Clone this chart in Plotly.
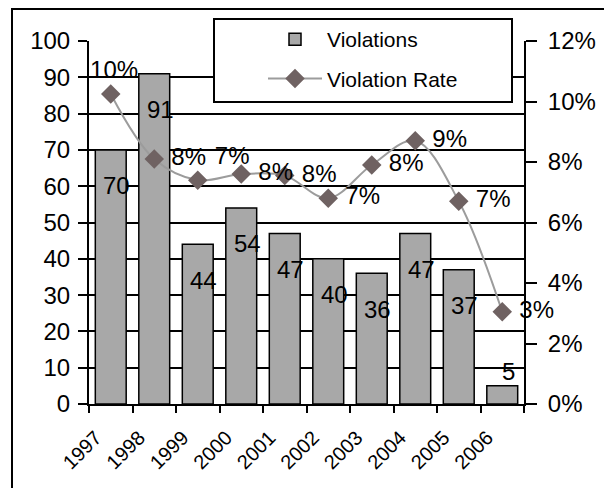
import plotly.graph_objects as go

years = ["1997", "1998", "1999", "2000", "2001", "2002", "2003", "2004", "2005", "2006"]
violations = [70, 91, 44, 54, 47, 40, 36, 47, 37, 5]
violation_rate = [10.25, 8.1, 7.4, 7.6, 7.55, 6.8, 7.9, 8.7, 6.7, 3.05]

FONT = "Liberation Sans"

# page body has an 8px margin: figure is 604x480 starting at (8, 8)
W, H, OFF = 604, 480, 8

rate_text = [f" {round(v)}%" for v in violation_rate]
rate_pos = ["top center", "middle right", "top right"] + ["middle right"] * (len(years) - 3)

fig = go.Figure()
fig.add_trace(go.Bar(
    x=years, y=violations, name="Violations", legendgroup="g1",
    marker=dict(color="#a8a8a8", line=dict(color="black", width=1.5)),
))
fig.add_trace(go.Scatter(
    x=years, y=violation_rate, name="Violation Rate", yaxis="y2", legendgroup="g2",
    mode="lines+markers+text", cliponaxis=False,
    line=dict(color="#9c9c9c", width=2, shape="spline"),
    marker=dict(symbol="diamond", size=15, color="#6f6262"),
    text=rate_text, textposition=rate_pos,
    textfont=dict(size=24, color="black"),
))

# bar value labels (x as category index)
for i, v in enumerate(violations):
    fig.add_annotation(
        x=i, y=v, xref="x", yref="y", text=str(v), showarrow=False,
        font=dict(size=24, color="black"),
        xshift=6, yshift=(-36 if v >= 10 else 14),
    )

fig.update_layout(
    width=W, height=H,
    margin=dict(l=89 - OFF, r=W - (524 - OFF), t=41 - OFF, b=H - (404 - OFF), autoexpand=False),
    paper_bgcolor="white", plot_bgcolor="white",
    font=dict(family=FONT, color="black"),
    bargap=0.29,
    legend=dict(
        xref="container", yref="container",
        x=(263 - OFF) / W, y=1 - (19 - OFF) / H, xanchor="left", yanchor="top",
        bgcolor="rgba(0,0,0,0)", borderwidth=0,
        font=dict(size=21), itemwidth=54, tracegroupgap=9,
    ),
    xaxis=dict(
        type="category", range=[-0.5, len(years) - 0.5], tickson="boundaries",
        ticks="outside", ticklen=7, tickwidth=1.5, tickcolor="black",
        showline=True, linecolor="black", linewidth=2, showgrid=False,
        tickangle=-45, tickfont=dict(size=20), ticklabelshift=-15,
        ticklabelstandoff=12, automargin=False,
    ),
    xaxis2=dict(
        overlaying="x", anchor="y", side="bottom", type="linear",
        range=[-0.5, len(years) - 0.5], tick0=-0.5, dtick=1,
        ticks="inside", ticklen=7, tickwidth=1.5, tickcolor="black",
        showticklabels=False, showgrid=False, showline=False, zeroline=False,
        automargin=False,
    ),
    yaxis=dict(
        range=[0, 100], dtick=10, ticks="outside", ticklen=9, tickwidth=1.5,
        tickcolor="black", showline=True, linecolor="black", linewidth=2,
        showgrid=True, gridcolor="black", gridwidth=1.5, zeroline=False,
        tickfont=dict(size=24), ticklabelstandoff=3, automargin=False,
    ),
    yaxis2=dict(
        overlaying="y", side="right", range=[0, 12], dtick=2, ticksuffix="%",
        ticks="outside", ticklen=11, tickwidth=1.5, tickcolor="black",
        showline=True, linecolor="black", linewidth=2, showgrid=False, zeroline=False,
        tickfont=dict(size=24), ticklabelstandoff=6, automargin=False,
    ),
    yaxis3=dict(
        overlaying="y", side="right", anchor="x", range=[0, 12], dtick=2,
        ticks="inside", ticklen=8, tickwidth=1.5, tickcolor="black",
        showticklabels=False, showline=False, showgrid=False, zeroline=False,
        automargin=False,
    ),
    shapes=[
        dict(type="rect", xref="paper", yref="paper",
             x0=(214 - 89) / 435, x1=(512 - 89) / 435,
             y0=1 - (102 - 41) / 363, y1=1 + (41 - 19) / 363,
             line=dict(color="black", width=2), fillcolor="white", layer="above"),
        dict(type="rect", xref="paper", yref="paper",
             x0=(12 - 89) / 435, x1=(606 - 89) / 435,
             y0=-0.24, y1=1 + (41 - 9) / 363,
             line=dict(color="black", width=2), fillcolor="rgba(0,0,0,0)", layer="above"),
    ],
)

fig.write_html("out.html")
